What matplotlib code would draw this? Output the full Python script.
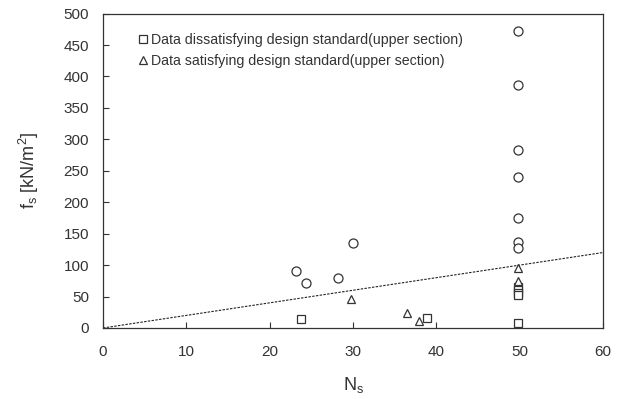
import matplotlib
matplotlib.use("Agg")
import matplotlib.pyplot as plt
from matplotlib.lines import Line2D

plt.rcParams['font.family'] = ['Liberation Sans', 'DejaVu Sans']
plt.rcParams['mathtext.fontset'] = 'custom'
plt.rcParams['mathtext.rm'] = 'Liberation Sans'
plt.rcParams['mathtext.it'] = 'Liberation Sans'

# Pile data: SPT N value vs. skin friction (upper section)
circle_n = [23.2, 24.3, 28.2, 30.0, 49.8, 49.8, 49.8, 49.8, 49.8, 49.8, 49.8]
circle_fs = [90, 72, 79, 135, 473, 387, 283, 240, 175, 136, 127]

unsat_n = [23.8, 38.9, 49.8, 49.8, 49.8, 49.8, 49.8]
unsat_fs = [14, 16, 65, 60, 56, 52, 8]

sat_n = [29.7, 36.5, 37.9, 49.8, 49.8]
sat_fs = [46, 24, 11, 96, 74]

# Design standard line fs = 2N
std_n = [0, 60]
std_fs = [0, 120]

x_ticks = [0, 10, 20, 30, 40, 50, 60]
y_ticks = [0, 50, 100, 150, 200, 250, 300, 350, 400, 450, 500]

fig = plt.figure(figsize=(6.22, 3.99), dpi=100)
ax = fig.add_axes([0.1656, 0.178, 0.804, 0.788])

edge = '#333333'
ax.plot(std_n, std_fs, linestyle=(0, (2.2, 1.2)), color='#222222', lw=0.8, zorder=1)
ax.plot(circle_n, circle_fs, 'o', ms=6.5, mfc='white', mec=edge, mew=0.9, linestyle='none', zorder=3)
ax.plot(unsat_n, unsat_fs, 's', ms=5.8, mfc='white', mec=edge, mew=0.9, linestyle='none', zorder=3)
ax.plot(sat_n, sat_fs, '^', ms=6.2, mfc='white', mec=edge, mew=0.9, linestyle='none', zorder=3)

ax.set_xlim(0, 60)
ax.set_ylim(0, 500)
ax.set_xticks(x_ticks)
ax.set_yticks(y_ticks)
ax.tick_params(direction='in', length=4, width=0.8, colors='#333333', labelsize=11)
ax.tick_params(axis='y', pad=10)
ax.tick_params(axis='x', pad=12)
for s in ax.spines.values():
    s.set_color('#333333')
    s.set_linewidth(0.9)

ax.set_xlabel(r'N$_\mathregular{s}$', fontsize=13, color='#333333', labelpad=12)
ax.set_ylabel(r'f$_\mathregular{s}$ [kN/m$^\mathregular{2}$]', fontsize=13, color='#333333', labelpad=16)

handles = [
    Line2D([], [], marker='s', ms=5.5, mfc='white', mec=edge, mew=0.9, linestyle='none'),
    Line2D([], [], marker='^', ms=5.5, mfc='white', mec=edge, mew=0.9, linestyle='none'),
]
labels = ['Data dissatisfying design standard(upper section)',
          'Data satisfying design standard(upper section)']
ax.legend(handles, labels, loc='upper left', bbox_to_anchor=(0.045, 0.98), frameon=False,
          fontsize=10.2, handlelength=0.6, handletextpad=0.3, labelspacing=0.55,
          labelcolor='#333333')

fig.savefig('out.png', dpi=100)
